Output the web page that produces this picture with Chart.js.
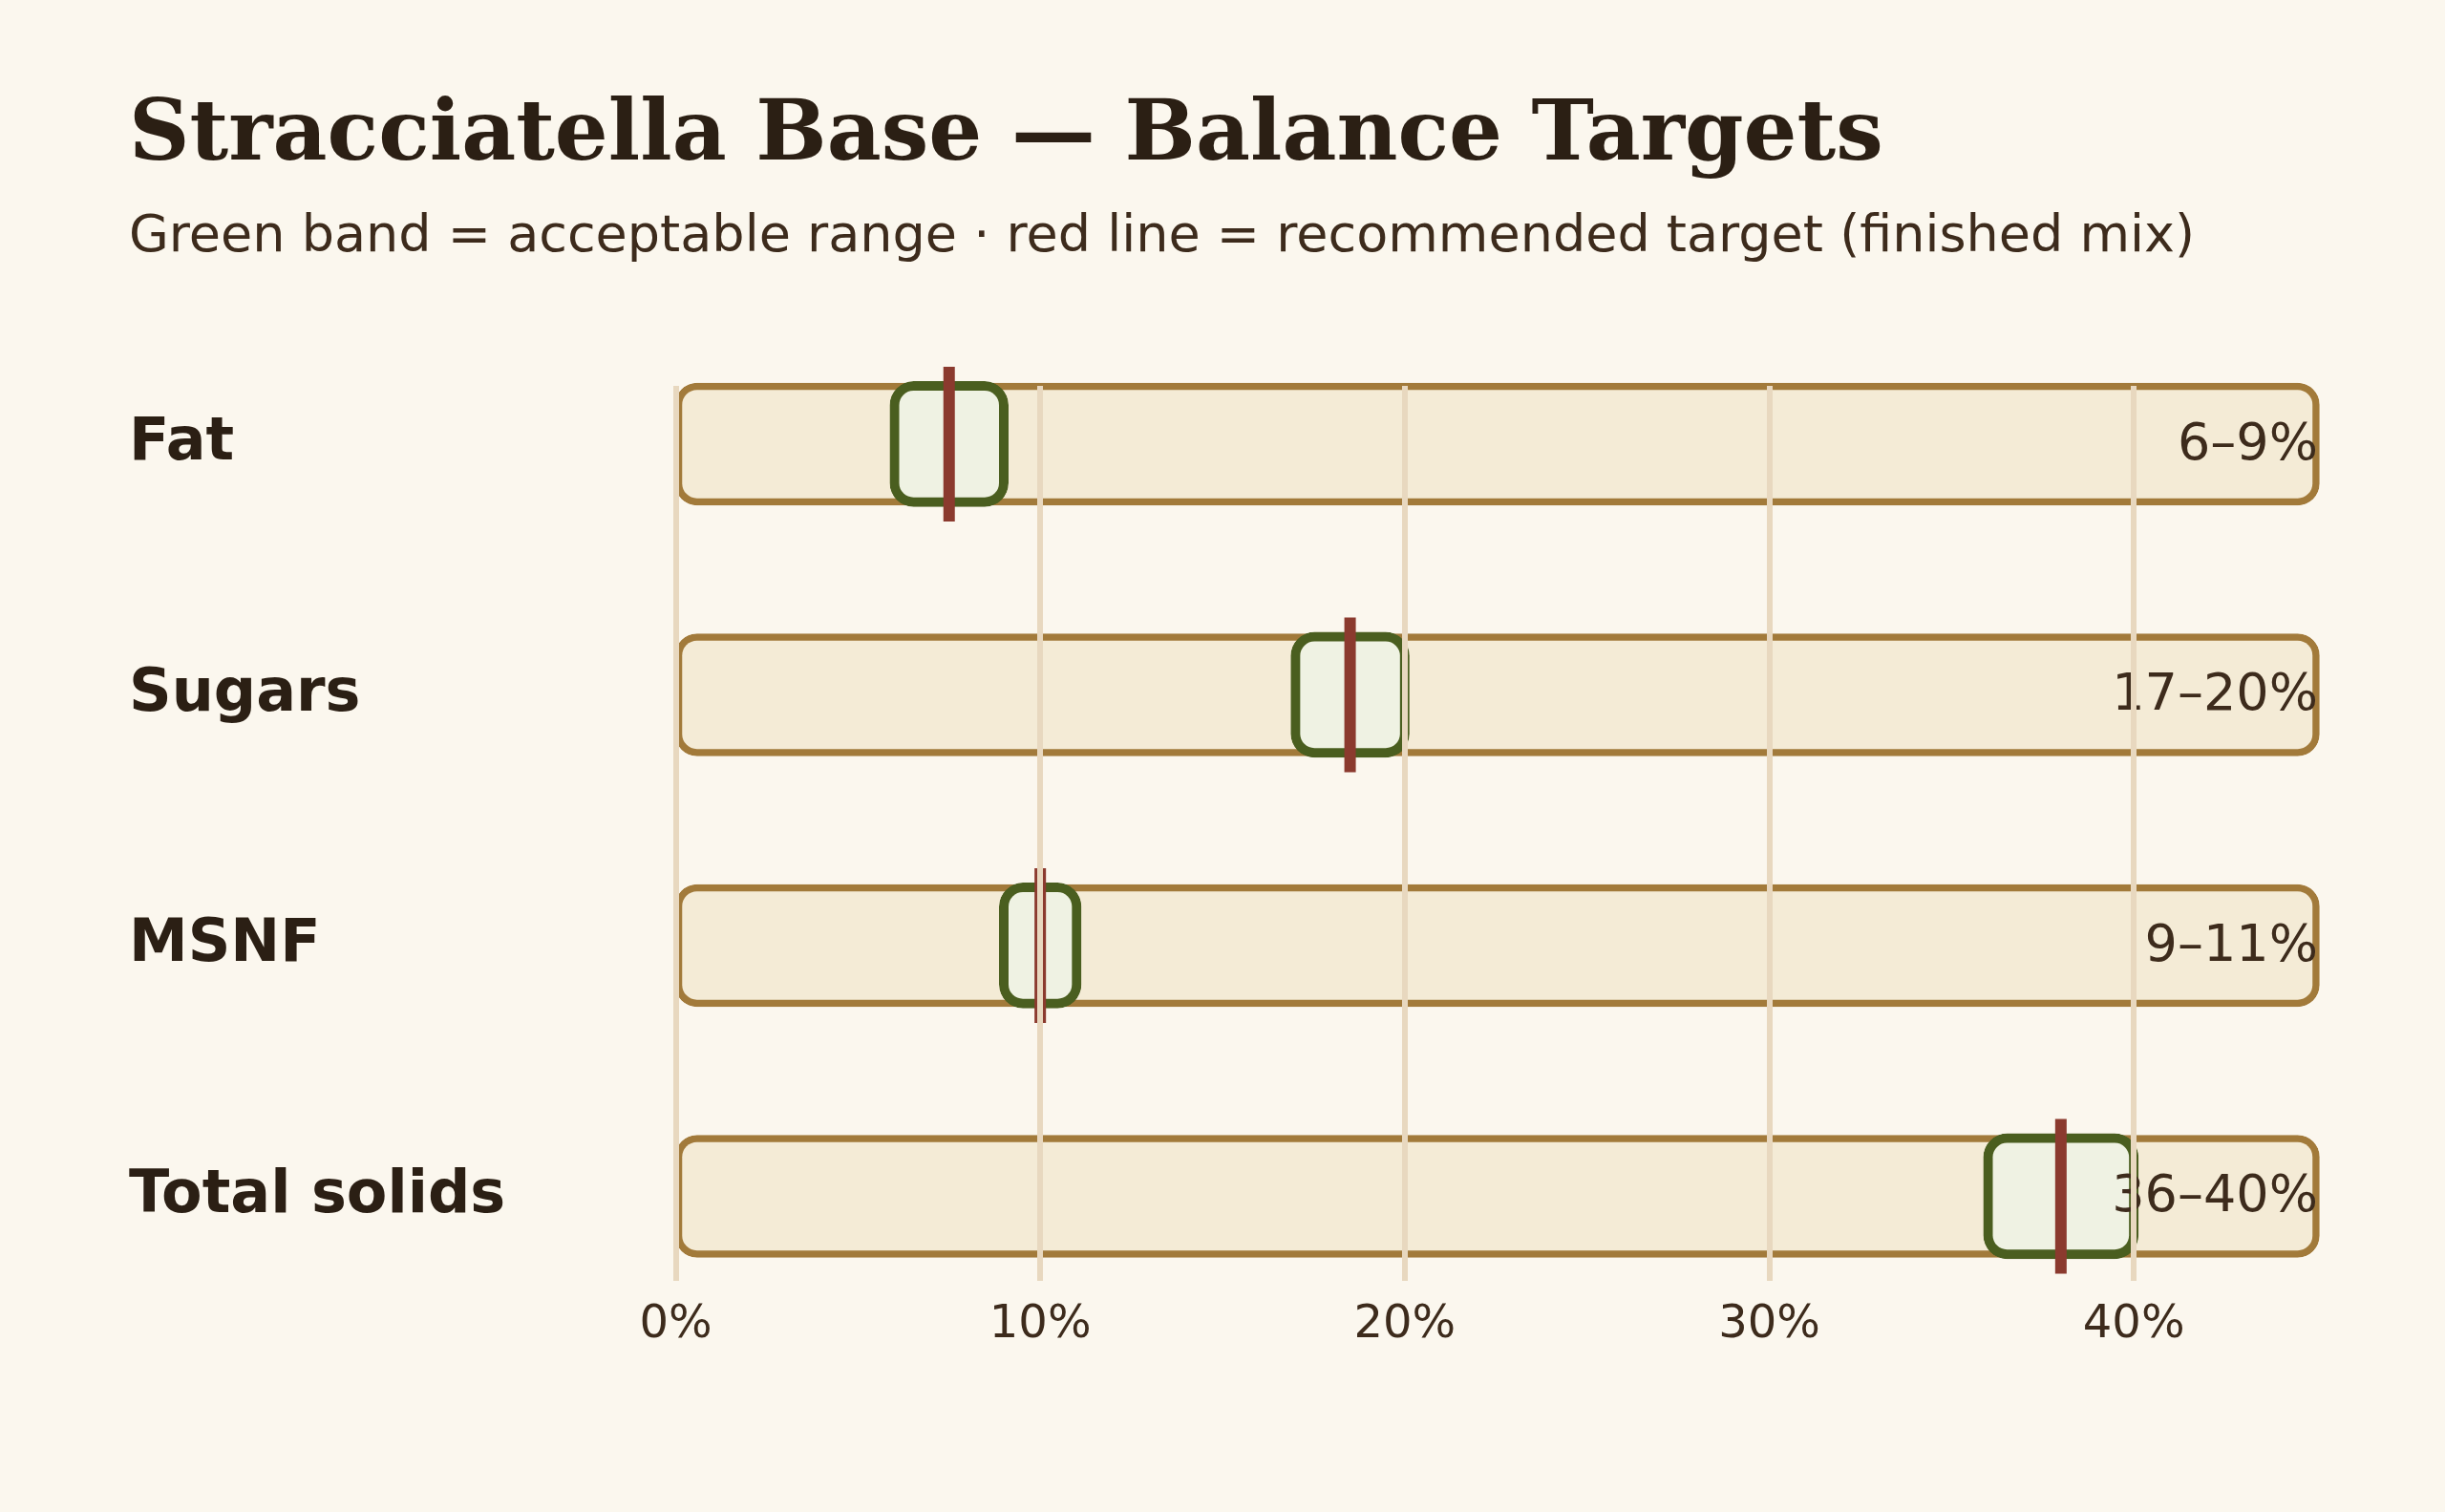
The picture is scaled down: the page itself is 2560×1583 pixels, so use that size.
<!DOCTYPE html>
<html>
<head>
<meta charset="utf-8">
<title>Stracciatella Base — Balance Targets</title>
<script src="https://cdn.jsdelivr.net/npm/chart.js@4.4.1/dist/chart.umd.min.js"></script>
<style>
  html, body { margin: 0; padding: 0; background: #fbf7ee; }
  canvas { display: block; }
</style>
</head>
<body>
<canvas id="targets" width="2560" height="1583"></canvas>
<script>
const nutrients = ['Fat', 'Sugars', 'MSNF', 'Total solids'];
const rangeLow = [6, 17, 9, 36];
const rangeHigh = [9, 20, 11, 40];
const targets = [7.5, 18.5, 10, 38];
const xTicks = [0, 10, 20, 30, 40];
const xMax = 45;

const ink = '#2b1f14';
const inkSoft = '#3d2b1c';

// "6–9%" style labels, right side of each track
const rangeLabels = nutrients.map((n, i) => rangeLow[i] + '\u2013' + rangeHigh[i] + '%');

const rangeLabelPlugin = {
    id: 'rangeLabels',
    afterDatasetsDraw(chart) {
        const ctx = chart.ctx;
        const x = chart.scales.x;
        const y = chart.scales.y;
        ctx.save();
        ctx.font = '54px "DejaVu Sans"';
        ctx.fillStyle = inkSoft;
        ctx.textAlign = 'right';
        ctx.textBaseline = 'middle';
        rangeLabels.forEach((t, i) => {
            ctx.fillText(t, x.getPixelForValue(xMax) + 2, y.getPixelForValue(i) + 2);
        });
        ctx.restore();
    }
};

Chart.defaults.font.family = '"DejaVu Sans", sans-serif';

const ctx = document.getElementById('targets').getContext('2d');

new Chart(ctx, {
    type: 'bar',
    data: {
        datasets: [{
            // target marker
            type: 'scatter',
            data: targets.map((v, i) => ({ x: v, y: i })),
            pointStyle: 'line',
            pointRotation: 90,
            pointRadius: 81,
            pointBorderWidth: 12,
            pointBorderColor: '#8b3a2e',
            pointBackgroundColor: '#8b3a2e',
            clip: false,
            order: 0
        }, {
            // acceptable range
            data: nutrients.map((n, i) => ({ x: [rangeLow[i], rangeHigh[i]], y: i })),
            backgroundColor: '#eff2e3',
            borderColor: '#4a5e1f',
            borderWidth: 10,
            borderRadius: 25,
            borderSkipped: false,
            inflateAmount: 5,
            maxBarThickness: 121.6,
            grouped: false,
            clip: false,
            order: 1
        }, {
            // full track
            data: nutrients.map((n, i) => ({ x: [0, xMax], y: i })),
            backgroundColor: '#f4ebd6',
            borderColor: '#a27a3a',
            borderWidth: 7.5,
            borderRadius: 23,
            borderSkipped: false,
            inflateAmount: 3.75,
            maxBarThickness: 121,
            grouped: false,
            clip: false,
            order: 2
        }]
    },
    options: {
        indexAxis: 'y',
        responsive: false,
        devicePixelRatio: 1,
        animation: false,
        events: [],
        layout: {
            padding: { top: 0, left: 135, right: 135, bottom: 148.4 }
        },
        scales: {
            x: {
                type: 'linear',
                position: 'bottom',
                min: 0,
                max: xMax,
                offset: false,
                afterBuildTicks: (axis) => { axis.ticks = xTicks.map(v => ({ value: v })); },
                border: { display: false },
                grid: {
                    color: '#e8d8bf',
                    lineWidth: 6,
                    drawTicks: false,
                    z: 1
                },
                ticks: {
                    padding: 23,
                    color: inkSoft,
                    font: { size: 48, lineHeight: 1 },
                    callback: (v) => v + '%'
                }
            },
            y: {
                type: 'linear',
                position: 'left',
                reverse: true,
                offset: false,
                min: -0.232,
                max: 3.336,
                afterBuildTicks: (axis) => { axis.ticks = nutrients.map((n, i) => ({ value: i })); },
                afterFit: (axis) => { axis.width = 572.5; },
                border: { display: false },
                grid: { display: false },
                ticks: {
                    autoSkip: false,
                    crossAlign: 'far',
                    color: ink,
                    font: { size: 62, weight: 'bold', lineHeight: 1 },
                    callback: (v) => nutrients[v]
                }
            }
        },
        plugins: {
            legend: { display: false },
            tooltip: { enabled: false },
            title: {
                display: true,
                text: 'Stracciatella Base \u2014 Balance Targets',
                align: 'start',
                color: ink,
                font: { family: '"DejaVu Serif", serif', size: 88, weight: 'bold', lineHeight: 1 },
                padding: { top: 100.5, bottom: 33 }
            },
            subtitle: {
                display: true,
                text: 'Green band = acceptable range \u00b7 red line = recommended target (finished mix)',
                align: 'start',
                color: inkSoft,
                font: { size: 54, lineHeight: 1 },
                padding: { top: 0, bottom: 128.5 }
            }
        }
    },
    plugins: [rangeLabelPlugin]
});
</script>
</body>
</html>
